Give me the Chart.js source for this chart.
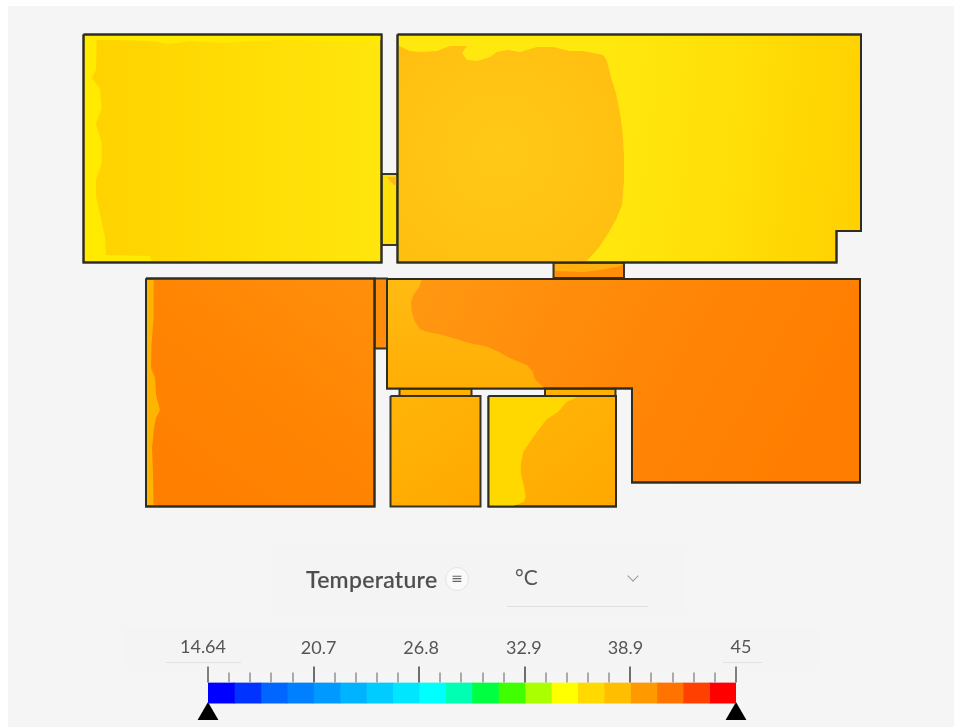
<!DOCTYPE html>
<html>
<head>
<meta charset="utf-8">
<title>Temperature</title>
<script src="https://cdn.jsdelivr.net/npm/chart.js@4"></script>
<style>
html, body { margin: 0; background: #fff; }
#page { position: relative; width: 954px; height: 727px; overflow: hidden; }
#sheet { position: absolute; left: 8px; top: 6px; right: 0; bottom: 0; background: #f5f5f5; }
.panel { position: absolute; background: #f4f4f4; }
#plan, #scale { position: absolute; left: 0; }
#plan { top: 0; }
#scale { top: 640px; }
.txt { position: absolute; font-family: Lato, sans-serif; color: #555; white-space: nowrap; }
#icon { position: absolute; left: 445px; top: 567px; width: 24px; height: 24px; box-sizing: border-box; border: 1.5px solid #e2e2e2; border-radius: 50%; background: #fafafa;
  font: 14px/21px "DejaVu Sans", sans-serif; text-align: center; color: #666; }
#chev { position: absolute; left: 629px; top: 572px; width: 7px; height: 7px; border-right: 1.2px solid #999; border-bottom: 1.2px solid #999; transform: rotate(45deg); }
#rule { position: absolute; left: 507px; top: 606px; width: 141px; height: 1px; background: #e0e0e0; }
.lab { position: absolute; top: 662px; height: 1px; background: #e2e2e2; }
</style>
</head>
<body>
<div id="page" style="filter: blur(0.6px)">
  <div id="sheet"></div>
  <div class="panel" style="left:272px;top:545px;width:410px;height:70px"></div>
  <div class="panel" style="left:125px;top:628px;width:693px;height:38px"></div>
  <canvas id="plan" width="954" height="640"></canvas>
  <div class="txt" style="left:306px;top:565px;font-size:23px;font-weight:500;letter-spacing:0.3px;color:#4d4d4d;-webkit-text-stroke:0.2px #4d4d4d">Temperature</div>
  <div id="icon">≡</div>
  <div class="txt" style="left:515px;top:564px;font-size:21px">°C</div>
  <div id="chev"></div>
  <div id="rule"></div>
  <div class="lab" style="left:166px;width:75px"></div>
  <div class="lab" style="left:723px;width:39px"></div>
  <canvas id="scale" width="954" height="96"></canvas>
</div>
<script>
// plan outlines, in plan units
const roomA = [[83.5,34.5],[381.5,34.5],[381.5,262.5],[83.5,262.5]];
const roomAEdge = [[85,36],[381,36],[381,40],[360,42],[330,41],[280,40],[250,41],[225,43],[190,41],[170,44],[150,41],[115,40],[96.7,40],[96,70],[91.7,78.3],[100,88.3],[101.7,108.3],[96,123.3],[101.7,143.3],[101.7,163.3],[96,180],[96,196.7],[100.7,216.7],[105,236.7],[106,255],[150,256],[151.7,261],[85,261]];
const roomB = [[397.5,34.5],[861,34.5],[861,231],[836.5,231],[836.5,262.5],[397.5,262.5]];
const roomBCore = [[399,46],[410,51],[420,52],[437,51],[450,46],[467,46],[462,53],[467,60],[477,61],[490,57],[497,52],[507,50],[520,52],[537,47],[553,47],[570,51],[583,51],[603,55],[606.7,60],[611.7,80],[616,93.3],[620,113.3],[622.7,133.3],[624,156.7],[624,180],[622,205],[616.7,218.3],[608.3,233.3],[598.3,248.3],[586.7,261],[399,261]];
const linkAB = [[381.5,174],[397.5,174],[397.5,245],[381.5,245]];
const linkABCorner = [[387,177],[397,177],[397,186],[393,184]];
const linkBE = [[553.5,262.5],[624,262.5],[624,278],[553.5,278]];
const linkBETop = [[555,264],[623,264],[621,266],[600,270],[583,272],[555,271]];
const roomC = [[146,278.5],[374.5,278.5],[374.5,506.5],[146,506.5]];
const roomCEdge = [[147,280],[153.5,280],[153.5,318],[151.5,345],[151,368],[155,378],[156,395],[160,410],[156,418],[154,428],[152,448],[153,475],[153.5,505],[147,505]];
const linkCE = [[374.5,278.5],[387,278.5],[387,348.5],[374.5,348.5]];
const hall = [[387,279],[860,279],[860,482.5],[632,482.5],[632,388.5],[387,388.5]];
const hallLobe = [[388,280],[421.7,280],[419.3,286.7],[413.3,295],[411,303.3],[411.7,311.7],[415,321.7],[420,329.3],[428.3,332.3],[440,334.3],[453.3,338.3],[470,343.3],[485,346],[496.7,350.7],[510,358.3],[526.7,365],[532.7,371.7],[535,379.3],[544,388],[388,388]];
const linkHallF = [[399.5,388.5],[471.5,388.5],[471.5,396],[399.5,396]];
const linkHallG = [[545,388.5],[615.5,388.5],[615.5,396],[545,396]];
const roomH = [[390.5,396],[480.5,396],[480.5,506.5],[390.5,506.5]];
const roomI = [[488.5,396],[616,396],[616,506.5],[488.5,506.5]];
const roomILobe = [[489,397],[577.3,397.3],[566.7,401.7],[558.3,411.7],[546.7,419.3],[538.3,430],[530,441.7],[523.3,451.7],[521,463.3],[520.7,473.3],[524,486.7],[525.7,496.7],[524,501.7],[513.3,506],[489,506]];

// colour scale
const bandEdges = [14.64,16.16,17.68,19.19,20.71,22.23,23.75,25.26,26.78,28.30,29.82,31.34,32.86,34.38,35.89,37.41,38.93,40.45,41.96,43.48,45];
const bandColors = ['#0000ff','#0033ff','#0066ff','#0080ff','#0099ff','#00b3ff','#00ccff','#00e6ff','#00ffff','#00ffb3','#00ff40','#40ff00','#aaff00','#ffff00','#ffd900','#ffbf00','#ff9900','#ff7300','#ff4000','#ff0000'];
const majorTicks = [14.64,20.71,26.78,32.86,38.93,45];
const minorTicks = [15.85,17.07,18.28,19.5,21.92,23.14,24.35,25.57,28,29.21,30.43,31.64,34.07,35.28,36.5,37.71,40.14,41.36,42.57,43.79];
const tickLabels = ['14.64','20.7','26.8','32.9','38.9','45'];
const labelNudge = [-5,5,2,-1,-5,5];
const rangeMarkers = [14.64,45];

const ctx = document.getElementById('plan').getContext('2d');

function grad(x0, y0, x1, y1, stops) {
    const g = ctx.createLinearGradient(x0, y0, x1, y1);
    stops.forEach((c, i) => g.addColorStop(i / (stops.length - 1), c));
    return g;
}

function radial(x, y, r, stops) {
    const g = ctx.createRadialGradient(x, y, 0, x, y, r);
    stops.forEach((c, i) => g.addColorStop(i / (stops.length - 1), c));
    return g;
}

const wall = 'rgba(45,45,35,0.95)';

function area(points, fillColor, outline) {
    const data = points.concat([points[0]]).map(p => ({ x: p[0], y: p[1] }));
    return {
        data: data,
        showLine: true,
        tension: 0,
        pointRadius: 0,
        fill: 'shape',
        backgroundColor: fillColor,
        borderColor: outline ? wall : 'transparent',
        borderWidth: outline ? 2 : 0
    };
}

const yellowA = grad(90, 0, 381, 0, ['#ffd200', '#ffdc04', '#ffe60d']);
const yellowB = grad(600, 120, 861, 150, ['#ffe80e', '#ffdf08', '#ffd100']);
const orangeHall = grad(430, 279, 800, 480, ['#ff9711', '#ff8708', '#ff7d00']);
const orangeC = grad(374, 279, 200, 506, ['#ff900c', '#ff8503', '#ff7f00']);
const amber = grad(400, 396, 470, 506, ['#ffb408', '#ffa900']);
const amberI = grad(530, 396, 616, 506, ['#ffb408', '#ffa800']);
const core = radial(500, 150, 140, ['#ffc917', '#ffc414', '#ffbf10']);

const planSets = [
    area(linkAB, '#ffdf0a', true),
    area(linkABCorner, '#ffb81c', false),
    area(linkBE, '#ff8f0a', true),
    area(linkBETop, '#ffb00f', false),
    area(linkHallF, '#ffb000', true),
    area(linkHallG, '#ffb000', true),
    area(linkCE, '#ff8c0a', true),
    area(roomA, yellowA, true),
    area(roomAEdge, '#ffea00', false),
    area(roomB, yellowB, true),
    area(roomBCore, core, false),
    area(roomC, orangeC, true),
    area(roomCEdge, '#ffb400', false),
    area(hall, orangeHall, true),
    area(hallLobe, grad(0, 280, 0, 388, ['#ffbb12', '#ffae05']), false),
    area(roomH, amber, true),
    area(roomI, amberI, true),
    area(roomILobe, '#ffd800', false)
];

// walls go back on top of the lighter patches
[roomA, roomB, roomC, hall, roomI].forEach(r => {
    const d = area(r, 'transparent', true);
    d.fill = false;
    planSets.push(d);
});

// chart.js paints the first dataset last, so flip to keep the list bottom-up
planSets.reverse();

new Chart(ctx, {
    type: 'scatter',
    data: { datasets: planSets },
    options: {
        animation: false,
        responsive: false,
        layout: { padding: 0 },
        plugins: { legend: { display: false }, tooltip: { enabled: false } },
        scales: {
            x: { type: 'linear', display: false, min: 0, max: 954 },
            y: { type: 'linear', display: false, min: 0, max: 640, reverse: true }
        }
    }
});

const bandSets = bandColors.map((c, i) => ({
    type: 'bar',
    indexAxis: 'y',
    data: [[bandEdges[i], bandEdges[i + 1]]],
    backgroundColor: c,
    borderWidth: 0,
    grouped: false,
    barPercentage: 1,
    categoryPercentage: 1,
    xAxisID: 'x',
    yAxisID: 'y'
}));

const markerSet = {
    type: 'scatter',
    indexAxis: 'x',
    data: rangeMarkers.map(v => ({ x: v, y: 0.24 })),
    pointStyle: 'triangle',
    pointRadius: 12,
    backgroundColor: '#000',
    borderWidth: 0,
    clip: false,
    xAxisID: 'x',
    yAxisID: 'yMark'
};

const scaleMarks = {
    id: 'scaleMarks',
    afterDraw(chart) {
        const c = chart.ctx;
        const xs = chart.scales.x;
        const top = chart.chartArea.top;
        c.save();
        minorTicks.forEach(v => {
            const px = Math.round(xs.getPixelForValue(v));
            c.fillStyle = '#aaa';
            c.fillRect(px - 1, top - 10, 2, 10);
        });
        majorTicks.forEach((v, i) => {
            const px = Math.round(xs.getPixelForValue(v));
            const end = i === 0 || i === majorTicks.length - 1;
            c.fillStyle = end ? '#808080' : '#6e6e6e';
            c.fillRect(px - 1, top - 16, 2, 16);
            c.font = '18px Lato, sans-serif';
            c.fillStyle = '#555';
            c.textAlign = 'center';
            c.textBaseline = 'alphabetic';
            c.fillText(tickLabels[i], xs.getPixelForValue(v) + labelNudge[i], end ? 13 : 14);
        });
        c.restore();
    }
};

new Chart(document.getElementById('scale'), {
    data: { labels: ['bar', 'marks'], datasets: bandSets.concat([markerSet]) },
    options: {
        animation: false,
        responsive: false,
        layout: { padding: { left: 208, right: 218, top: 42.5, bottom: 0.5 } },
        plugins: { legend: { display: false }, tooltip: { enabled: false } },
        scales: {
            x: { type: 'linear', display: false, min: 14.64, max: 45 },
            y: { type: 'category', display: false, offset: true },
            yMark: { type: 'linear', display: false, min: 0, max: 1 }
        }
    },
    plugins: [scaleMarks]
});
</script>
</body>
</html>
